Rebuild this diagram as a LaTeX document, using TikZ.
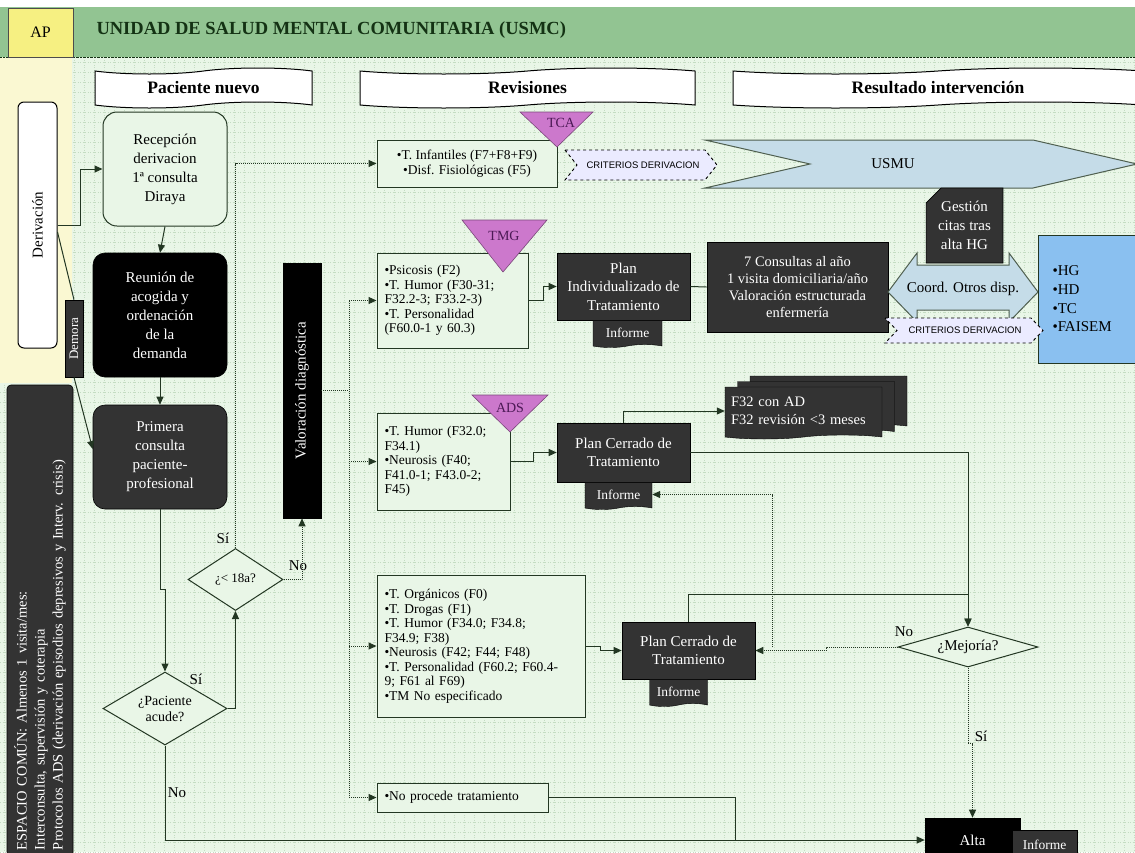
\documentclass[tikz,border=0pt]{standalone}
\usepackage{fontspec}
\setmainfont{Liberation Serif}
\newfontfamily\critfont{Liberation Sans}
\usetikzlibrary{positioning,shapes.geometric,shapes.symbols,shapes.misc,arrows.meta}

\definecolor{fondo}{RGB}{233,246,231}
\definecolor{rejilla}{RGB}{196,220,194}
\definecolor{cabecera}{RGB}{146,196,146}
\definecolor{amarillo}{RGB}{246,240,130}
\definecolor{crema}{RGB}{250,248,210}
\definecolor{oscuro}{RGB}{51,51,51}
\definecolor{lila}{RGB}{204,120,204}
\definecolor{morado}{RGB}{75,25,85}
\definecolor{celeste}{RGB}{197,220,232}
\definecolor{azul}{RGB}{138,192,240}
\definecolor{borde}{RGB}{35,55,35}
\definecolor{verdeosc}{RGB}{20,50,20}

\tikzset{
  caja/.style={draw=borde, line width=1pt, fill=fondo, inner sep=0pt,
    font=\fontsize{13.5}{14.5}\selectfont},
  cajaos/.style={draw=black, line width=0.6pt, fill=oscuro, text=white,
    inner sep=0pt, align=center, font=\fontsize{15}{18.5}\selectfont},
  informe/.style={tape, tape bend top=none, tape bend height=3pt, draw=black,
    fill=oscuro, text=white, inner sep=0pt, minimum height=27,
    font=\fontsize{13.5}{15}\selectfont},
  pila/.style={tape, tape bend top=none, tape bend height=4pt, draw=black,
    fill=oscuro, text=white, inner xsep=6, inner ysep=0pt, minimum width=157,
    minimum height=52, font=\fontsize{14.5}{18}\selectfont},
  rombo/.style={diamond, draw=borde, line width=1pt, fill=fondo, inner sep=0pt,
    align=center, font=\fontsize{14}{16}\selectfont},
  banda/.style={tape, tape bend height=6pt, draw=black, line width=1pt,
    fill=white, minimum height=40, font=\bfseries\fontsize{17.5}{20}\selectfont},
  triang/.style={draw=lila!60!black, line width=0.6pt, fill=lila},
  trtexto/.style={text=morado, font=\fontsize{14}{16}\selectfont},
  criterio/.style={draw=black, dashed, line width=0.9pt, fill=white!92!blue},
  crtexto/.style={font=\critfont\fontsize{9.5}{11}\selectfont},
  flecha/.style={line width=1pt, draw=borde, -{Triangle[length=8pt,width=7pt]}},
  linea/.style={line width=1pt, draw=borde},
  punteada/.style={line width=1pt, draw=borde, densely dotted,
    -{Triangle[length=8pt,width=7pt]}},
  etiq/.style={font=\fontsize{15}{17}\selectfont, inner sep=1pt}
}

\begin{document}
\begin{tikzpicture}[x=1pt, y=-1pt]
\clip (0,0) rectangle (1135,852);
% fondo
\fill[fondo] (0,0) rectangle (1135,852);
\foreach \gx in {4,14,...,1134}
  \draw[rejilla, dotted, line width=0.5pt] (\gx,57) -- (\gx,852);
\foreach \gy in {62,72,...,852}
  \draw[rejilla, dotted, line width=0.5pt] (0,\gy) -- (1135,\gy);
\fill[crema] (0,57) rectangle (72,383);
\fill[white] (0,0) rectangle (1135,7);
\fill[cabecera] (0,7) rectangle (1135,57);
\draw[verdeosc, densely dotted] (0,57) -- (1135,57);

% cabecera
\node[draw=black!70, fill=amarillo, minimum width=65, minimum height=49,
  font=\fontsize{16}{18}\selectfont] (ap) at (40.5,32.5) {AP};
\node[anchor=west, text=verdeosc, font=\bfseries\fontsize{18.5}{21}\selectfont]
  (titulo) at (93,30) {UNIDAD DE SALUD MENTAL COMUNITARIA (USMC)};
\node[banda, minimum width=217] (pnuevo) at (203.5,88) {Paciente nuevo};
\node[banda, minimum width=335] (revis) at (527.5,88) {Revisiones};
\node[banda, minimum width=410] (result) at (938,88) {Resultado intervención};

% columna izquierda
\node[rotate=90, draw=black, line width=1pt, fill=white, rounded corners=6,
  minimum width=246, minimum height=39, inner sep=0pt,
  font=\fontsize{15}{17}\selectfont] (deriv) at (37.5,225) {Derivación};
\node[rotate=90, cajaos, minimum width=77, minimum height=18,
  font=\fontsize{13}{14}\selectfont] (demora) at (74,338.5) {Demora};
\node[rotate=90, cajaos, rounded corners=4, minimum width=471, minimum height=66,
  align=left, text width=459, inner xsep=6, font=\fontsize{14.5}{18}\selectfont]
  (espacio) at (40,620.5) {ESPACIO COMÚN: Almenos 1 visita/mes:\\Interconsulta, supervisión y coterapia\\Protocolos ADS (derivación episodios depresivos y Interv. crisis)};

% paciente nuevo
\node[draw=borde, line width=1pt, fill=fondo, rounded corners=14, minimum width=124,
  minimum height=114, inner sep=0pt, align=center, font=\fontsize{15}{19}\selectfont]
  (recep) at (165,169) {Recepción\\derivacion\\1ª consulta\\Diraya};
\node[cajaos, fill=black, rounded corners=12, minimum width=134, minimum height=124,
  font=\fontsize{15}{19}\selectfont] (reunion) at (160,315)
  {Reunión de\\acogida y\\ordenación\\de la\\demanda};
\node[cajaos, rounded corners=12, minimum width=134, minimum height=104,
  font=\fontsize{15}{19}\selectfont] (primera) at (160,457)
  {Primera\\consulta\\paciente-\\profesional};
\node[rombo, aspect=1.7, minimum width=124, minimum height=73] (acude) at (165,708.5)
  {¿Paciente\\acude?};
\node[rombo, aspect=1.5, minimum width=95, minimum height=62,
  font=\fontsize{13}{15}\selectfont] (menor) at (235.5,579.5) {¿< 18a?};
\node[rotate=90, cajaos, fill=black, minimum width=255, minimum height=38]
  (valor) at (302,390.5) {Valoración diagnóstica};

% revisiones
\node[caja, minimum width=180, minimum height=47, align=center] (tca) at (467,163.5)
  {•T. Infantiles (F7+F8+F9)\\•Disf. Fisiológicas (F5)};
\node[caja, text width=136, inner xsep=7.5, minimum height=95, align=left]
  (tmg) at (452.5,300.5)
  {•Psicosis (F2)\\•T. Humor (F30-31;\\F32.2-3; F33.2-3)\\•T. Personalidad\\(F60.0-1 y 60.3)};
\node[caja, text width=118, inner xsep=7.5, minimum height=97, align=left]
  (ads) at (443.5,461.5)
  {•T. Humor (F32.0;\\F34.1)\\•Neurosis (F40;\\F41.0-1; F43.0-2;\\F45)};
\node[caja, text width=193, inner xsep=7.5, minimum height=142, align=left]
  (org) at (481,646)
  {•T. Orgánicos (F0)\\•T. Drogas (F1)\\•T. Humor (F34.0; F34.8;\\F34.9; F38)\\•Neurosis (F42; F44; F48)\\•T. Personalidad (F60.2; F60.4-\\9; F61 al F69)\\•TM No especificado};
\node[caja, text width=156, inner xsep=7.5, minimum height=29, align=left]
  (noproc) at (462.5,797.5) {•No procede tratamiento};

\draw[triang] (520,112) -- (593,112) -- (557,147) -- cycle;
\node[trtexto] (tcat) at (561,123) {TCA};
\draw[triang] (462,220) -- (547,220) -- (503,272) -- cycle;
\node[trtexto] (tmgt) at (504,236) {TMG};
\draw[triang] (472,395) -- (548,395) -- (510,432) -- cycle;
\node[trtexto] (adst) at (510,408) {ADS};

% tratamientos
\node[cajaos, minimum width=133, minimum height=67] (pind) at (623.5,286.5)
  {Plan\\Individualizado de\\Tratamiento};
\node[informe, minimum width=69, below=0pt of pind, xshift=4pt] (inf1) {Informe};
\node[cajaos, minimum width=133, minimum height=59] (pc1) at (623.5,452.5)
  {Plan Cerrado de\\Tratamiento};
\node[informe, minimum width=67, below=0pt of pc1, xshift=-5pt] (inf2) {Informe};
\node[cajaos, minimum width=133, minimum height=57] (pc2) at (688.5,650.5)
  {Plan Cerrado de\\Tratamiento};
\node[informe, minimum width=58, below=0pt of pc2, xshift=-10pt] (inf3) {Informe};
\node[cajaos, minimum width=181, minimum height=90, font=\fontsize{14.5}{16.7}\selectfont]
  (consult) at (797.5,287)
  {7 Consultas al año\\1 visita domiciliaria/año\\Valoración estructurada\\enfermería};

% resultado
\draw[draw=borde!80, line width=1pt, fill=celeste] (705,140) -- (1033,140) -- (1137,164)
  -- (1033,188) -- (705,188) -- (810,164) -- cycle;
\node[font=\fontsize{15}{17}\selectfont] (usmu) at (893,164) {USMU};
\node[cajaos, chamfered rectangle, chamfered rectangle corners=north west,
  chamfered rectangle xsep=12pt, minimum width=75, minimum height=75,
  font=\fontsize{15}{19}\selectfont] (gestion) at (964.5,225.5) {Gestión\\citas tras\\alta HG};
\draw[draw=borde!80, line width=1pt, fill=celeste] (888,292) -- (917,253) -- (917,265)
  -- (1009,265) -- (1009,253) -- (1038,292) -- (1009,322) -- (1009,310) -- (917,310)
  -- (917,322) -- cycle;
\node[font=\fontsize{15}{17}\selectfont] (coord) at (963,289) {Coord. Otros disp.};
\node[draw=borde, line width=1pt, fill=azul, minimum height=128, text width=82,
  inner xsep=14, align=left, anchor=west, font=\fontsize{15}{18.7}\selectfont]
  (hosp) at (1038,299) {•HG\\•HD\\•TC\\•FAISEM};
\draw[criterio] (565,150) -- (705,150) -- (717,165) -- (705,180) -- (565,180) -- (577,165) -- cycle;
\node[crtexto] (crit1) at (643,165) {CRITERIOS DERIVACION};
\draw[criterio] (885,318) -- (1031,318) -- (1043,330.5) -- (1031,343) -- (885,343) -- (897,330.5) -- cycle;
\node[crtexto] (crit2) at (965,330.5) {CRITERIOS DERIVACION};
\node[pila] (f32c) at (828.5,400) {};
\node[pila] (f32b) at (816,405.5) {};
\node[pila, text width=145, align=left] (f32) at (803.5,411) {F32 con AD\\F32 revisión <3 meses};
\node[rombo, aspect=3.5, minimum width=140, minimum height=40,
  font=\fontsize{15}{17}\selectfont] (mejora) at (968,647) {¿Mejoría?};
\node[cajaos, fill=black, minimum width=95, minimum height=44] (alta) at (972.5,840) {Alta};
\node[cajaos, minimum width=65, minimum height=30, font=\fontsize{13.5}{15}\selectfont]
  (inf4) at (1044.5,845) {Informe};

% conexiones
\draw[flecha] (deriv.south) -- ++(23,0) |- (recep.west);
\draw[linea] ([yshift=-7pt]deriv.south) -- (demora.east);
\draw[flecha] (demora.west) -- ([yshift=8pt]primera.west);
\draw[flecha] (recep.south) -- (reunion.north);
\draw[flecha] (reunion.south) -- (primera.north);
\draw[flecha] (primera.south) -- ++(0,80) -| (acude.north);
\draw[flecha] (acude.east) -| (menor.south);
\draw[flecha] (acude.south) |- (alta.west);
\draw[punteada] (menor.north) |- (tca.west);
\draw[punteada] (menor.east) -| (valor.west);
\draw[punteada, -] (valor.south) -- ++(28,0) coordinate (bus);
\draw[punteada, -] (bus |- tmg.west) -- (bus |- noproc.west);
\draw[punteada] (bus |- tmg.west) -- (tmg.west);
\draw[punteada] (bus |- ads.west) -- (ads.west);
\draw[punteada] (bus |- org.west) -- (org.west);
\draw[punteada] (bus |- noproc.west) -- (noproc.west);
\draw[flecha] (tmg.east) -- ++(15,0) |- (pind.west);
\draw[linea] (pind.east) -- (consult.west);
\draw[flecha] (ads.east) -- ++(23,0) |- (pc1.west);
\draw[flecha] (pc1.north) |- (f32.west);
\draw[flecha] (pc1.east) -| (mejora.north);
\draw[flecha] (org.east) -- ++(15,0) |- (pc2.west);
\draw[flecha] (pc2.north) -- ++(0,-27) -| (mejora.north);
\draw[punteada] (mejora.west) -- ++(-71,0) |- (pc2.east);
\draw[punteada] ([xshift=-125pt]mejora.west) |- (inf2.east);
\draw[punteada] (mejora.south) -- ++(0,76) -| (alta.north);
\draw[linea] (noproc.east) -| ([xshift=-189pt]alta.west);

% etiquetas
\node[etiq] (si1) at (196,679) {Sí};
\node[etiq] (si2) at (223,538) {Sí};
\node[etiq] (no1) at (298,566) {No};
\node[etiq] (no2) at (177,793) {No};
\node[etiq] (no3) at (904,632) {No};
\node[etiq] (si3) at (981,736) {Sí};
\end{tikzpicture}
\end{document}
